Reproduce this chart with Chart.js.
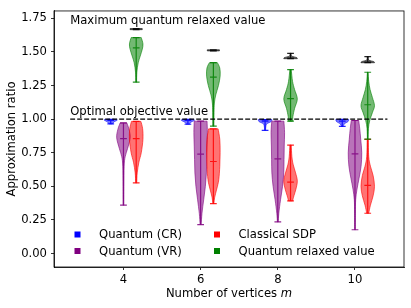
<!DOCTYPE html>
<html>
<head>
<meta charset="utf-8">
<script src="https://cdn.jsdelivr.net/npm/chart.js@4.4.0/dist/chart.umd.min.js"></script>
<style>
html,body{margin:0;padding:0;background:#fff;}
</style>
</head>
<body>
<canvas id="myChart" width="411" height="308"></canvas>
<script>
// number of vertices m
var categories = [4, 6, 8, 10];
var xTicks = [4, 6, 8, 10];
var yTicks = [0, 0.25, 0.5, 0.75, 1.0, 1.25, 1.5, 1.75];

var seriesLabels = ['Quantum (CR)', 'Quantum (VR)', 'Classical SDP', 'Quantum relaxed value'];

// violin outlines: [ratio, relative width], from min to max
var crShapes = [
	[[0.965, 0.25], [0.98, 0.5], [0.992, 0.95], [0.998, 0.9]],
	[[0.962, 0.25], [0.978, 0.45], [0.99, 0.95], [0.998, 0.9]],
	[[0.917, 0.08], [0.94, 0.1], [0.965, 0.25], [0.982, 0.9], [0.997, 1.0]],
	[[0.946, 0.12], [0.965, 0.3], [0.982, 0.85], [0.998, 0.95]]
];
var crMedians = [0.99, 0.99, 0.985, 0.985];

var vrShapes = [
	[[0.36, 0.05], [0.5, 0.06], [0.65, 0.1], [0.72, 0.25], [0.78, 0.6], [0.86, 1.0], [0.92, 0.85], [0.972, 0.5]],
	[[0.216, 0.08], [0.3, 0.2], [0.4, 0.45], [0.5, 0.7], [0.6, 0.85], [0.7, 0.9], [0.8, 0.95], [0.9, 1.0], [0.985, 0.95]],
	[[0.235, 0.06], [0.3, 0.15], [0.4, 0.4], [0.5, 0.7], [0.6, 0.88], [0.7, 0.92], [0.8, 0.95], [0.9, 1.0], [0.985, 0.9]],
	[[0.177, 0.05], [0.3, 0.06], [0.4, 0.1], [0.48, 0.3], [0.56, 0.6], [0.65, 0.9], [0.75, 1.0], [0.85, 0.85], [0.93, 0.7], [0.99, 0.55]]
];
var vrMedians = [0.855, 0.74, 0.704, 0.741];

var sdpShapes = [
	[[0.526, 0.08], [0.6, 0.15], [0.68, 0.4], [0.75, 0.75], [0.85, 1.0], [0.93, 0.95], [0.983, 0.7]],
	[[0.372, 0.08], [0.42, 0.2], [0.48, 0.5], [0.55, 0.8], [0.65, 0.95], [0.75, 1.0], [0.85, 0.95], [0.928, 0.7]],
	[[0.392, 0.3], [0.43, 0.5], [0.48, 0.8], [0.54, 1.0], [0.6, 0.75], [0.66, 0.4], [0.72, 0.2], [0.807, 0.1]],
	[[0.3, 0.15], [0.36, 0.4], [0.43, 0.8], [0.5, 1.0], [0.58, 0.8], [0.65, 0.4], [0.72, 0.15], [0.85, 0.08]]
];
var sdpMedians = [0.855, 0.685, 0.531, 0.507];

var relaxedShapes = [
	[[1.275, 0.06], [1.35, 0.1], [1.42, 0.3], [1.47, 0.6], [1.52, 0.9], [1.56, 1.0], [1.607, 0.75]],
	[[0.948, 0.08], [1.05, 0.1], [1.12, 0.15], [1.18, 0.35], [1.25, 0.75], [1.32, 1.0], [1.38, 0.95], [1.42, 0.6]],
	[[0.985, 0.3], [1.02, 0.35], [1.08, 0.6], [1.15, 1.0], [1.22, 0.6], [1.28, 0.3], [1.368, 0.1]],
	[[0.851, 0.05], [0.93, 0.1], [0.99, 0.3], [1.05, 0.7], [1.1, 1.0], [1.16, 0.7], [1.22, 0.35], [1.28, 0.15], [1.349, 0.05]]
];
var relaxedMedians = [1.53, 1.312, 1.153, 1.107];

// maximum quantum relaxed value
var maxShapes = [
	[[1.666, 0.9], [1.674, 0.9]],
	[[1.508, 0.9], [1.516, 0.9]],
	[[1.45, 1.0], [1.458, 0.9], [1.47, 0.15], [1.49, 0.1]],
	[[1.42, 1.0], [1.428, 0.9], [1.44, 0.15], [1.465, 0.1]]
];
var maxMedians = [1.67, 1.512, 1.455, 1.425];

var optimalValue = 1.0;

var violinWidth = 0.35;
var violinSeries = [
	{shapes: crShapes, medians: crMedians, offset: -0.33, color: '0,0,255'},
	{shapes: vrShapes, medians: vrMedians, offset: 0, color: '128,0,128'},
	{shapes: sdpShapes, medians: sdpMedians, offset: 0.33, color: '255,0,0'},
	{shapes: relaxedShapes, medians: relaxedMedians, offset: 0.33, color: '0,128,0'},
	{shapes: maxShapes, medians: maxMedians, offset: 0.33, color: '0,0,0'}
];
var legendColors = ['#0000ff', '#800080', '#ff0000', '#008000'];

var FONT = 'DejaVu Sans';
var FS = 11.6;
Chart.defaults.font.family = FONT;
Chart.defaults.font.size = FS;
Chart.defaults.color = '#000';

// curve through points (catmull-rom)
function curveThrough(ctx, pts) {
	for (var i = 0; i < pts.length - 1; i++) {
		var p0 = pts[i - 1] || pts[i], p1 = pts[i], p2 = pts[i + 1], p3 = pts[i + 2] || pts[i + 1];
		ctx.bezierCurveTo(
			p1.x + (p2.x - p0.x) / 6, p1.y + (p2.y - p0.y) / 6,
			p2.x - (p3.x - p1.x) / 6, p2.y - (p3.y - p1.y) / 6,
			p2.x, p2.y);
	}
}

function drawViolin(ctx, xs, ys, pos, shape, median, color) {
	var cx = xs.getPixelForValue(pos);
	var halfW = xs.getPixelForValue(pos + violinWidth / 2) - cx;
	var right = shape.map(function(p) { return {x: cx + p[1] * halfW, y: ys.getPixelForValue(p[0])}; });
	var left = shape.map(function(p) { return {x: cx - p[1] * halfW, y: ys.getPixelForValue(p[0])}; }).reverse();

	ctx.beginPath();
	ctx.moveTo(right[0].x, right[0].y);
	curveThrough(ctx, right);
	ctx.lineTo(left[0].x, left[0].y);
	curveThrough(ctx, left);
	ctx.closePath();
	ctx.fillStyle = 'rgba(' + color + ',0.55)';
	ctx.fill();
	ctx.strokeStyle = 'rgba(' + color + ',0.6)';
	ctx.lineWidth = 1;
	ctx.stroke();

	// bar, caps and median
	var yMin = ys.getPixelForValue(shape[0][0]);
	var yMax = ys.getPixelForValue(shape[shape.length - 1][0]);
	var yMed = ys.getPixelForValue(median);
	var capW = halfW / 2;
	ctx.strokeStyle = 'rgba(' + color + ',0.85)';
	ctx.lineWidth = 1.2;
	ctx.beginPath();
	ctx.moveTo(cx, yMin); ctx.lineTo(cx, yMax);
	ctx.moveTo(cx - capW, yMin); ctx.lineTo(cx + capW, yMin);
	ctx.moveTo(cx - capW, yMax); ctx.lineTo(cx + capW, yMax);
	ctx.moveTo(cx - capW, yMed); ctx.lineTo(cx + capW, yMed);
	ctx.stroke();
}

var violinPlugin = {
	id: 'violins',
	afterDatasetsDraw: function(chart) {
		var ctx = chart.ctx, xs = chart.scales.x, ys = chart.scales.y, area = chart.chartArea;
		ctx.save();
		ctx.beginPath();
		ctx.rect(area.left, area.top, area.right - area.left, area.bottom - area.top);
		ctx.clip();

		violinSeries.forEach(function(s) {
			categories.forEach(function(m, i) {
				drawViolin(ctx, xs, ys, m + s.offset, s.shapes[i], s.medians[i], s.color);
			});
		});

		// optimal objective line
		ctx.strokeStyle = '#000';
		ctx.lineWidth = 1.3;
		ctx.setLineDash([4.9, 2.1]);
		ctx.beginPath();
		ctx.moveTo(xs.getPixelForValue(2.62), ys.getPixelForValue(optimalValue));
		ctx.lineTo(xs.getPixelForValue(10.84), ys.getPixelForValue(optimalValue));
		ctx.stroke();
		ctx.setLineDash([]);

		// annotations
		ctx.fillStyle = '#000';
		ctx.font = FS + 'px "' + FONT + '"';
		ctx.textAlign = 'left';
		ctx.textBaseline = 'alphabetic';
		ctx.fillText('Maximum quantum relaxed value', xs.getPixelForValue(2.62), ys.getPixelForValue(1.71));
		ctx.fillText('Optimal objective value', xs.getPixelForValue(2.62), ys.getPixelForValue(1.03));

		// legend
		ctx.textBaseline = 'middle';
		var cols = [area.left + 23.5, area.left + 163];
		var rows = [area.bottom - 32.5, area.bottom - 16];
		var order = [[0, 0], [1, 0], [0, 1], [1, 1]];
		seriesLabels.forEach(function(lbl, k) {
			var r = order[k][0], c = order[k][1];
			ctx.fillStyle = legendColors[k];
			ctx.fillRect(cols[c] - 3, rows[r] - 3, 6, 6);
			ctx.fillStyle = '#000';
			ctx.fillText(lbl, cols[c] + 21.5, rows[r] + 0.5);
		});
		ctx.restore();

		// frame
		ctx.save();
		ctx.strokeStyle = '#000';
		ctx.lineWidth = 0.8;
		ctx.strokeRect(area.left, area.top, area.right - area.left, area.bottom - area.top);

		// x title with italic m
		var t1 = 'Number of vertices ', t2 = 'm';
		ctx.font = FS + 'px "' + FONT + '"';
		var w1 = ctx.measureText(t1).width;
		ctx.font = 'italic ' + FS + 'px "' + FONT + '"';
		var w2 = ctx.measureText(t2).width;
		var x0 = (area.left + area.right) / 2 - (w1 + w2) / 2;
		ctx.fillStyle = '#000';
		ctx.textAlign = 'left';
		ctx.textBaseline = 'alphabetic';
		ctx.font = FS + 'px "' + FONT + '"';
		ctx.fillText(t1, x0, 296.5);
		ctx.font = 'italic ' + FS + 'px "' + FONT + '"';
		ctx.fillText(t2, x0 + w1, 296.5);
		ctx.restore();
	}
};

var myChart = document.getElementById('myChart');
var grafica = new Chart(myChart, {
	type: 'scatter',
	data: {
		datasets: []
	},
	options: {
		responsive: false,
		animation: false,
		devicePixelRatio: 1,
		layout: {padding: {left: 0, top: 7, right: 7, bottom: 0}},
		plugins: {
			legend: {display: false},
			tooltip: {enabled: false}
		},
		scales: {
			x: {
				type: 'linear',
				min: 2.2,
				max: 11.27,
				afterBuildTicks: function(axis) {
					axis.ticks = xTicks.map(function(v) { return {value: v}; });
				},
				afterFit: function(axis) { axis.height = 41; },
				ticks: {
					padding: 3,
					maxRotation: 0,
					callback: function(v) { return String(v); }
				},
				grid: {drawOnChartArea: false, drawTicks: true, tickLength: 3, tickColor: '#000', tickWidth: 0.8},
				border: {display: true, color: '#000', width: 0.8}
			},
			y: {
				type: 'linear',
				min: -0.1,
				max: 1.805,
				afterBuildTicks: function(axis) {
					axis.ticks = yTicks.map(function(v) { return {value: v}; });
				},
				afterFit: function(axis) { axis.width = 54; },
				ticks: {
					padding: 4,
					callback: function(v) { return v.toFixed(2); }
				},
				title: {
					display: true,
					text: 'Approximation ratio',
					padding: {top: 5, bottom: 0}
				},
				grid: {drawOnChartArea: false, drawTicks: true, tickLength: 3, tickColor: '#000', tickWidth: 0.8},
				border: {display: true, color: '#000', width: 0.8}
			}
		}
	},
	plugins: [violinPlugin]
});
</script>
</body>
</html>
